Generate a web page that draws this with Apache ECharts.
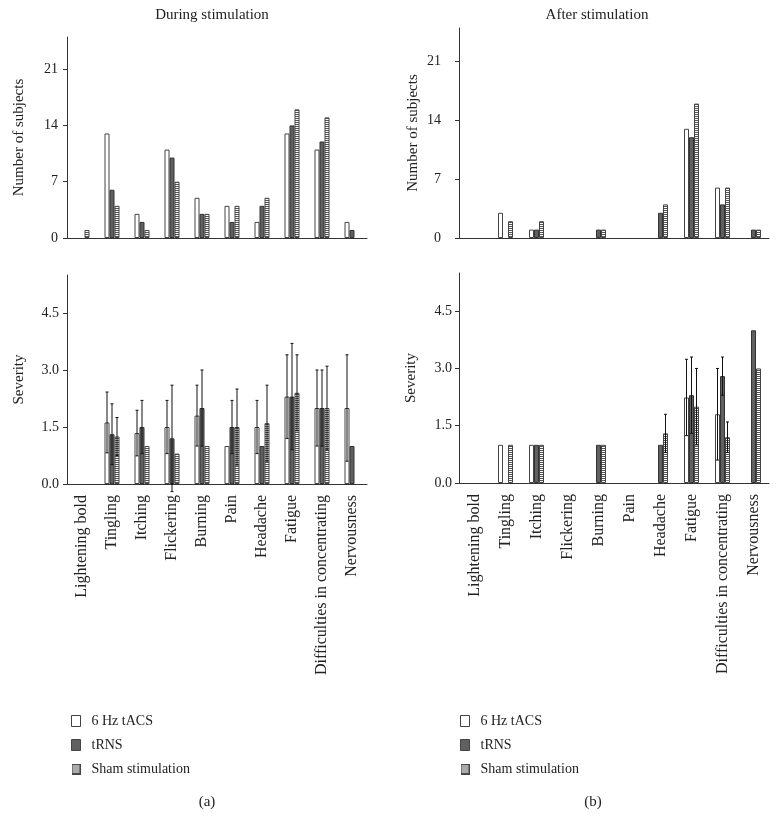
<!DOCTYPE html>
<html>
<head>
<meta charset="utf-8">
<script src="https://cdn.jsdelivr.net/npm/echarts@6/dist/echarts.min.js"></script>
<style>
  html, body { margin: 0; padding: 0; background: #fff; }
  #chart { width: 784px; height: 827px; }
</style>
</head>
<body>
<div id="chart"></div>
<script>
const categories = ['Lightening bold', 'Tingling', 'Itching', 'Flickering', 'Burning', 'Pain', 'Headache', 'Fatigue', 'Difficulties in concentrating', 'Nervousness']
const seriesNames = ['6 Hz tACS', 'tRNS', 'Sham stimulation']

// number of subjects, during stimulation
const duringTacsCount = [0, 13, 3, 11, 5, 4, 2, 13, 11, 2]
const duringTrnsCount = [0, 6, 2, 10, 3, 2, 4, 14, 12, 1]
const duringShamCount = [1, 4, 1, 7, 3, 4, 5, 16, 15, 0]
// number of subjects, after stimulation
const afterTacsCount = [0, 3, 1, 0, 0, 0, 0, 13, 6, 0]
const afterTrnsCount = [0, 0, 1, 0, 1, 0, 3, 12, 4, 1]
const afterShamCount = [0, 2, 2, 0, 1, 0, 4, 16, 6, 1]

// severity (mean / sd), during stimulation
const duringTacsSev = [0, 1.62, 1.34, 1.5, 1.8, 1.0, 1.5, 2.3, 2.0, 2.0]
const duringTrnsSev = [0, 1.31, 1.5, 1.2, 2.0, 1.5, 1.0, 2.3, 2.0, 1.0]
const duringShamSev = [0, 1.25, 1.0, 0.8, 1.0, 1.5, 1.6, 2.4, 2.0, 0]
const duringTacsSd = [0, 0.8, 0.6, 0.7, 0.8, 0, 0.7, 1.1, 1.0, 1.4]
const duringTrnsSd = [0, 0.8, 0.7, 1.4, 1.0, 0.7, 0, 1.4, 1.0, 0]
const duringShamSd = [0, 0.5, 0, 0, 0, 1.0, 1.0, 1.0, 1.1, 0]
// severity (mean / sd), after stimulation
const afterTacsSev = [0, 1, 1, 0, 0, 0, 0, 2.24, 1.8, 0]
const afterTrnsSev = [0, 0, 1, 0, 1, 0, 1, 2.3, 2.8, 4.0]
const afterShamSev = [0, 1, 1, 0, 1, 0, 1.3, 2.0, 1.2, 3.0]
const afterTacsSd = [0, 0, 0, 0, 0, 0, 0, 1.0, 1.2, 0]
const afterTrnsSd = [0, 0, 0, 0, 0, 0, 0, 1.0, 0.5, 0]
const afterShamSd = [0, 0, 0, 0, 0, 0, 0.5, 1.0, 0.4, 0]

const countTicks = [0, 7, 14, 21]
const severityTicks = [0, 1.5, 3.0, 4.5]

const FONT = 'Liberation Serif'
const BAR_W = 5
const AXIS_COLOR = '#333'

// 横线填充（假刺激）
const hatch = document.createElement('canvas')
hatch.width = 4
hatch.height = 2
const hctx = hatch.getContext('2d')
hctx.fillStyle = '#fff'
hctx.fillRect(0, 0, 4, 2)
hctx.fillStyle = '#555'
hctx.fillRect(0, 0, 4, 1)
const hatchFill = { image: hatch, repeat: 'repeat' }

// 图例用的条纹小图标
const hatchIcon = document.createElement('canvas')
hatchIcon.width = 9
hatchIcon.height = 11
const ictx = hatchIcon.getContext('2d')
ictx.fillStyle = '#fff'
ictx.fillRect(0, 0, 9, 11)
ictx.fillStyle = '#555'
for (let y = 1; y < 11; y += 2) ictx.fillRect(0, y, 9, 1)
ictx.strokeStyle = '#444'
ictx.lineWidth = 1
ictx.strokeRect(0.5, 0.5, 8, 10)

const barStyles = [
  { color: '#fff', borderColor: '#444', borderWidth: 1 },
  { color: '#606060', borderColor: '#333', borderWidth: 1 },
  { color: hatchFill, borderColor: '#444', borderWidth: 1 },
]

const grids = [
  { left: 67, top: 37, width: 300, height: 201 },
  { left: 459, top: 28, width: 310, height: 210 },
  { left: 67, top: 275, width: 300, height: 209 },
  { left: 459, top: 273, width: 310, height: 210 },
]

const xAxes = grids.map((g, i) => ({
  type: 'category',
  gridIndex: i,
  data: categories,
  axisLine: { lineStyle: { color: AXIS_COLOR } },
  axisTick: { alignWithLabel: true, length: 4, lineStyle: { color: AXIS_COLOR } },
  axisLabel: {
    show: i >= 2,
    interval: 0,
    rotate: 90,
    margin: 11,
    color: '#222',
    fontFamily: FONT,
    fontSize: 16,
  },
}))

const yMeta = [
  { max: 25, interval: 7, name: 'Number of subjects', margin: 9, gap: 40, fmt: (v) => String(v) },
  { max: 25, interval: 7, name: 'Number of subjects', margin: 18, gap: 38, fmt: (v) => String(v) },
  { max: 5.5, interval: 1.5, name: 'Severity', margin: 8, gap: 40, fmt: (v) => v.toFixed(1) },
  { max: 5.5, interval: 1.5, name: 'Severity', margin: 7, gap: 40, fmt: (v) => v.toFixed(1) },
]

const yAxes = yMeta.map((m, i) => {
  const ticks = i < 2 ? countTicks : severityTicks
  return {
    type: 'value',
    gridIndex: i,
    min: 0,
    max: m.max,
    interval: m.interval,
    name: m.name,
    nameLocation: 'middle',
    nameGap: m.gap,
    nameTextStyle: { color: '#222', fontFamily: FONT, fontSize: 15 },
    splitLine: { show: false },
    axisLine: { show: true, lineStyle: { color: AXIS_COLOR } },
    axisTick: { show: true, length: 4, lineStyle: { color: AXIS_COLOR } },
    axisLabel: {
      showMaxLabel: false,
      margin: m.margin,
      color: '#222',
      fontFamily: FONT,
      fontSize: 14,
      formatter: (v) => (ticks.some((t) => Math.abs(t - v) < 1e-6) ? m.fmt(v) : ''),
    },
  }
})

const barSeries = (gridIdx, arrays) =>
  arrays.map((arr, k) => ({
    name: seriesNames[k],
    type: 'bar',
    xAxisIndex: gridIdx,
    yAxisIndex: gridIdx,
    barWidth: BAR_W,
    barGap: '0%',
    itemStyle: barStyles[k],
    emphasis: { disabled: true },
    data: arr.map((v) => (v === 0 ? null : v)),
  }))

// 误差线
const errorSeries = (gridIdx, means, sds, slot) => ({
  type: 'custom',
  xAxisIndex: gridIdx,
  yAxisIndex: gridIdx,
  silent: true,
  z: 5,
  data: means.map((m, i) => [i, m, sds[i]]).filter((d) => d[2] > 0),
  renderItem: (params, api) => {
    const idx = api.value(0)
    const m = api.value(1)
    const s = api.value(2)
    const hi = api.coord([idx, m + s])
    const lo = api.coord([idx, m - s])
    const x = hi[0] + (slot - 1) * BAR_W
    const style = { stroke: '#111', lineWidth: 1 }
    return {
      type: 'group',
      children: [
        { type: 'line', shape: { x1: x, y1: hi[1], x2: x, y2: lo[1] }, style },
        { type: 'line', shape: { x1: x - 1.5, y1: hi[1], x2: x + 1.5, y2: hi[1] }, style },
        { type: 'line', shape: { x1: x - 1.5, y1: lo[1], x2: x + 1.5, y2: lo[1] }, style },
      ],
    }
  },
})

const series = [
  ...barSeries(0, [duringTacsCount, duringTrnsCount, duringShamCount]),
  ...barSeries(1, [afterTacsCount, afterTrnsCount, afterShamCount]),
  ...barSeries(2, [duringTacsSev, duringTrnsSev, duringShamSev]),
  ...barSeries(3, [afterTacsSev, afterTrnsSev, afterShamSev]),
  errorSeries(2, duringTacsSev, duringTacsSd, 0),
  errorSeries(2, duringTrnsSev, duringTrnsSd, 1),
  errorSeries(2, duringShamSev, duringShamSd, 2),
  errorSeries(3, afterTacsSev, afterTacsSd, 0),
  errorSeries(3, afterTrnsSev, afterTrnsSd, 1),
  errorSeries(3, afterShamSev, afterShamSd, 2),
]

const legendBase = {
  orient: 'vertical',
  top: 709,
  icon: 'rect',
  itemWidth: 9,
  itemHeight: 11,
  itemGap: 10,
  selectedMode: false,
  data: seriesNames.map((name, k) =>
    k === 2
      ? { name, icon: 'image://' + hatchIcon.toDataURL() }
      : { name, itemStyle: { color: barStyles[k].color, borderColor: '#444', borderWidth: 1 } }
  ),
  textStyle: { color: '#222', fontFamily: FONT, fontSize: 14, padding: [0, 0, 0, 6] },
}

const textStyle = (text, x, y) => ({
  type: 'text',
  x,
  y,
  style: { text, align: 'center', verticalAlign: 'middle', fill: '#222', font: `15px "${FONT}"` },
})

const chart = echarts.init(document.getElementById('chart'))
chart.setOption({
  animation: false,
  backgroundColor: '#fff',
  grid: grids,
  xAxis: xAxes,
  yAxis: yAxes,
  legend: [
    { ...legendBase, left: 66 },
    { ...legendBase, left: 455 },
  ],
  graphic: [
    textStyle('During stimulation', 212, 15),
    textStyle('After stimulation', 597, 15),
    textStyle('(a)', 207, 802),
    textStyle('(b)', 593, 802),
  ],
  series,
})
</script>
</body>
</html>
